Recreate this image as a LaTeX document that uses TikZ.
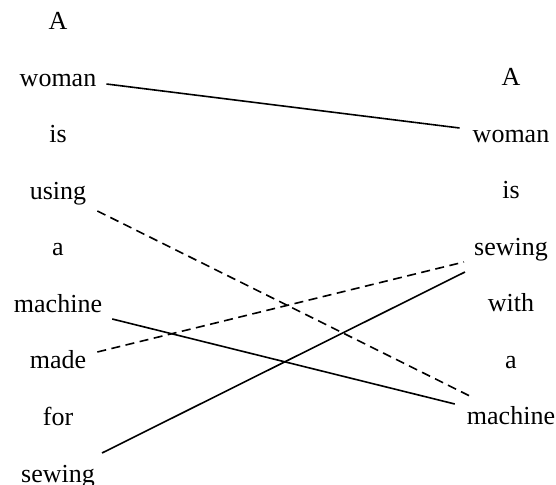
\documentclass[tikz,border=0pt]{standalone}
\usepackage{fontspec}
\setmainfont{Liberation Serif}
\usetikzlibrary{calc}
\tikzstyle{word}=[anchor=base,inner sep=0pt,font=\fontsize{26}{30}\selectfont]
\tikzstyle{link}=[line width=1.6pt]
\tikzstyle{weaklink}=[line width=1.6pt,dash pattern=on 9pt off 5.5pt]
\newcommand{\rowgap}{56.5} % distance between two baselines
\begin{document}
\begin{tikzpicture}[x=1pt,y=1pt]
	\useasboundingbox (0,0) rectangle (556,484);
	% left sentence
	\foreach \w [count=\i] in {A,woman,is,using,a,machine,made,for,sewing}
		\node[word] (l\i) at (58,{454-\rowgap*(\i-1)}) {\w};
	% right sentence
	\foreach \w [count=\i] in {A,woman,is,sewing,with,a,machine}
		\node[word] (r\i) at (511,{398-\rowgap*(\i-1)}) {\w};
	% alignments
	\draw[link] ([xshift=10pt,yshift=2.5pt]l2.base east) -- ([xshift=-13pt,yshift=14.5pt]r2.base west);
	\draw[weaklink] ([xshift=11pt,yshift=-11.5pt]l4.base east) -- ([xshift=5pt,yshift=28pt]r7.base west);
	\draw[link] ([xshift=10pt,yshift=-6.5pt]l6.base east) -- ([xshift=-12pt,yshift=21pt]r7.base west);
	\draw[weaklink] ([xshift=11pt,yshift=17pt]l7.base east) -- ([xshift=-10pt,yshift=-6.5pt]r4.base west);
	\draw[link] ([xshift=7pt,yshift=29pt]l9.base east) -- ([xshift=-9pt,yshift=-16.5pt]r4.base west);
\end{tikzpicture}
\end{document}
